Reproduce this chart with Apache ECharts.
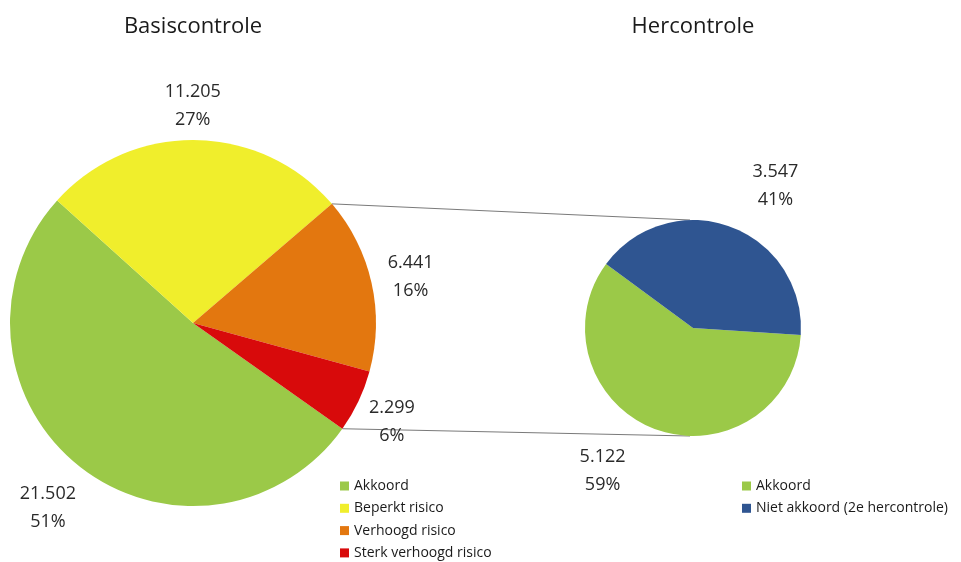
<!DOCTYPE html>
<html>
<head>
<meta charset="utf-8">
<script src="https://cdn.jsdelivr.net/npm/echarts@6/dist/echarts.min.js"></script>
<style>html,body{margin:0;padding:0;background:#fff;}#c{width:961px;height:562px;}</style>
</head>
<body>
<div id="c"></div>
<script>
// ---- Data ----
const leftTitle = 'Basiscontrole';
const rightTitle = 'Hercontrole';
const leftNames = ['Akkoord', 'Beperkt risico', 'Verhoogd risico', 'Sterk verhoogd risico'];
const leftValues = [21502, 11205, 6441, 2299];
const leftPct = ['51%', '27%', '16%', '6%'];
const rightNames = ['Akkoord', 'Niet akkoord (2e hercontrole)'];
const rightValues = [5122, 3547];
const rightPct = ['59%', '41%'];

// ---- Style ----
const FONT = 'Open Sans';
const leftColors = ['#9BC948', '#F0EE2C', '#E3770F', '#D80A0B'];
const rightColors = ['#9BC948', '#2F5591'];
const L = { center: [193, 323], r: 183, start: 324.7 };
const R = { center: [693, 328], r: 108, start: 356.3 };
// label placement: [radial distance beyond edge, dx, dy]
const leftLabelPos = [[54, 3, 0], [36, -3, 2], [40, 0, 3], [37, 0, 5]];
const rightLabelPos = [[42, -39, 2], [45, 30, 2]];

function fmt(v) { return String(v).replace(/\B(?=(\d{3})+(?!\d))/g, '.'); }

function midAngles(values, start) {
  const total = values.reduce((a, b) => a + b, 0);
  let cum = 0;
  return values.map(v => {
    const m = start - 360 * (cum + v / 2) / total;
    cum += v;
    return m;
  });
}
function edgeAngle(values, start, n) {
  const total = values.reduce((a, b) => a + b, 0);
  let cum = 0;
  for (let i = 0; i < n; i++) cum += values[i];
  return start - 360 * cum / total;
}
function pt(c, r, deg) {
  const a = deg * Math.PI / 180;
  return [c[0] + r * Math.cos(a), c[1] - r * Math.sin(a)];
}

const leftMids = midAngles(leftValues, L.start);
const rightMids = midAngles(rightValues, R.start);

function layoutFor(geom, mids, pos) {
  return function (params) {
    const i = params.dataIndex;
    const p = pt(geom.center, geom.r + pos[i][0], mids[i]);
    return { x: p[0] + pos[i][1], y: p[1] + pos[i][2], align: 'center', verticalAlign: 'middle' };
  };
}

const labelStyle = {
  show: true,
  position: 'outside',
  fontFamily: FONT,
  fontSize: 18,
  lineHeight: 28,
  color: '#2a2a2a',
  align: 'center',
  overflow: 'none',
  width: 120
};

// connector lines
const topStart = pt(L.center, L.r, edgeAngle(leftValues, L.start, 2));
const botStart = pt(L.center, L.r, L.start);
const topEnd = [R.center[0] - 3, R.center[1] - R.r];
const botEnd = [R.center[0] - 3, R.center[1] + R.r];

const legendText = { fontFamily: FONT, fontSize: 14, color: '#1a1a1a' };

const chart = echarts.init(document.getElementById('c'), null, { renderer: 'canvas' });
chart.setOption({
  animation: false,
  backgroundColor: '#ffffff',
  title: [
    { text: leftTitle, left: 188, top: 11, textAlign: 'center',
      textStyle: { fontFamily: FONT, fontSize: 22, fontWeight: 'normal', color: '#1a1a1a' } },
    { text: rightTitle, left: 688, top: 11, textAlign: 'center',
      textStyle: { fontFamily: FONT, fontSize: 22, fontWeight: 'normal', color: '#1a1a1a' } }
  ],
  legend: [
    { data: leftNames, orient: 'vertical', left: 340, top: 479, padding: 0, itemWidth: 9, itemHeight: 9, itemGap: 8.3,
      icon: 'rect', selectedMode: false, textStyle: legendText },
    { data: rightNames, orient: 'vertical', left: 742, top: 479, padding: 0, itemWidth: 9, itemHeight: 9, itemGap: 8.3,
      icon: 'rect', selectedMode: false, textStyle: legendText }
  ],
  graphic: [
    { type: 'line', z: 0, shape: { x1: topStart[0], y1: topStart[1], x2: topEnd[0], y2: topEnd[1] },
      style: { stroke: '#7a7a7a', lineWidth: 1 } },
    { type: 'line', z: 0, shape: { x1: botStart[0], y1: botStart[1], x2: botEnd[0], y2: botEnd[1] },
      style: { stroke: '#7a7a7a', lineWidth: 1 } }
  ],
  series: [
    {
      type: 'pie', center: L.center, radius: L.r, startAngle: L.start, clockwise: true,
      silent: true, z: 2,
      data: leftNames.map((n, i) => ({ name: n, value: leftValues[i], itemStyle: { color: leftColors[i] } })),
      label: Object.assign({}, labelStyle, { formatter: p => fmt(p.value) + '\n' + leftPct[p.dataIndex] }),
      labelLine: { show: false },
      labelLayout: layoutFor(L, leftMids, leftLabelPos)
    },
    {
      type: 'pie', center: R.center, radius: R.r, startAngle: R.start, clockwise: true,
      silent: true, z: 2,
      data: rightNames.map((n, i) => ({ name: n, value: rightValues[i], itemStyle: { color: rightColors[i] } })),
      label: Object.assign({}, labelStyle, { formatter: p => fmt(p.value) + '\n' + rightPct[p.dataIndex] }),
      labelLine: { show: false },
      labelLayout: layoutFor(R, rightMids, rightLabelPos)
    }
  ]
});
</script>
</body>
</html>
